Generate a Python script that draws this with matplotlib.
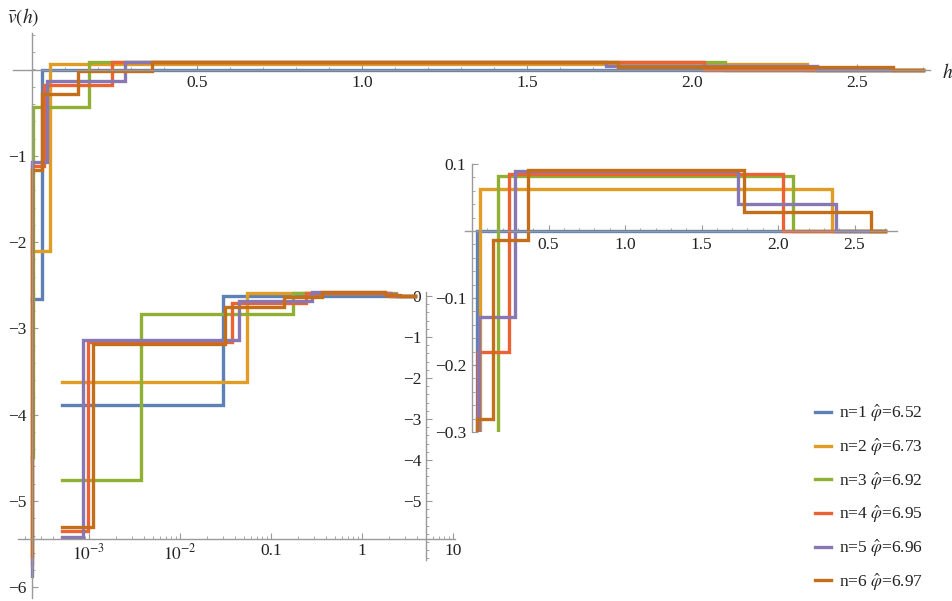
import numpy as np
import matplotlib
matplotlib.use("Agg")
import matplotlib.pyplot as plt
from matplotlib.ticker import FixedLocator, FixedFormatter, NullFormatter

# step data: segment edges in h and the value on each segment
h1 = [0, 0.030, 2.70]
v1 = [-2.66, 0.0]
h2 = [0, 0.055, 2.35, 2.70]
v2 = [-2.10, 0.063, 0.0]
h3 = [0, 0.0037, 0.173, 2.10, 2.70]
v3 = [-4.49, -0.44, 0.082, 0.0]
h4 = [0, 0.00098, 0.037, 0.242, 2.035, 2.70]
v4 = [-5.73, -1.12, -0.18, 0.085, 0.0]
h5 = [0, 0.00087, 0.045, 0.283, 1.74, 2.38, 2.70]
v5 = [-5.87, -1.07, -0.128, 0.089, 0.041, 0.0]
h6 = [0, 0.00112, 0.031, 0.140, 0.365, 1.775, 2.61, 2.70]
v6 = [-5.64, -1.17, -0.28, -0.013, 0.091, 0.029, 0.0]

n_vals = [1, 2, 3, 4, 5, 6]
phi_hat = [6.52, 6.73, 6.92, 6.95, 6.96, 6.97]
edges = [h1, h2, h3, h4, h5, h6]
values = [v1, v2, v3, v4, v5, v6]

# log-scale view runs over a different h window
h_min_log = 5e-4
h_max_log = 3.8

colors = ["#5E81B5", "#E19C24", "#8FB032", "#EB6235", "#8778B3", "#C56E1A"]

FS = 12.5
plt.rcParams["font.family"] = ["Liberation Serif", "DejaVu Serif"]
plt.rcParams["mathtext.fontset"] = "stix"
plt.rcParams["font.size"] = FS

W, H = 952, 601
AXC = "#999999"
TXT = "#222222"
LW = 2.4

fig = plt.figure(figsize=(W / 100, H / 100), dpi=100)


def px_axes(left, top, right, bottom):
    a = fig.add_axes([left / W, 1 - bottom / H, (right - left) / W, (bottom - top) / H])
    a.patch.set_visible(False)
    a.spines["top"].set_visible(False)
    a.spines["right"].set_visible(False)
    for s in ("left", "bottom"):
        a.spines[s].set_color(AXC)
        a.spines[s].set_linewidth(1.0)
    a.tick_params(which="both", direction="in", color=AXC, labelcolor=TXT,
                  labelsize=FS)
    a.tick_params(which="major", length=4, width=0.8)
    a.tick_params(which="minor", length=2.2, width=0.6)
    return a


def draw(a, h, v, **kw):
    a.step(h, list(v) + [v[-1]], where="post", color=kw.pop("color"), lw=LW,
           solid_joinstyle="miter", **kw)


# main axes
ax = px_axes(0, 0, W, H)
ax.set_xlim(-32 / 330, (W - 32) / 330)
ax.set_ylim((69.5 - H) / 86.3, 69.5 / 86.3)
ax.spines["left"].set_position(("data", 0))
ax.spines["bottom"].set_position(("data", 0))
ax.spines["left"].set_bounds(-6.12, 0.42)
ax.spines["bottom"].set_bounds(-0.058, 2.72)
ax.xaxis.set_major_locator(FixedLocator([0.5, 1.0, 1.5, 2.0, 2.5]))
ax.xaxis.set_major_formatter(FixedFormatter(["0.5", "1.0", "1.5", "2.0", "2.5"]))
ax.xaxis.set_minor_locator(FixedLocator(np.arange(0.1, 2.71, 0.1)))
ax.yaxis.set_major_locator(FixedLocator([-6, -5, -4, -3, -2, -1]))
ax.yaxis.set_major_formatter(FixedFormatter(["\u22126", "\u22125", "\u22124", "\u22123", "\u22122", "\u22121"]))
ax.yaxis.set_minor_locator(FixedLocator(np.arange(-6.0, 0.41, 0.2)))
ax.tick_params(axis="x", pad=4)
ax.tick_params(axis="y", pad=4)

for n, p, h, v, c in zip(n_vals, phi_hat, edges, values, colors):
    draw(ax, h, v, color=c, label=f"n={n} $\\hat{{\\varphi}}$={p:.2f}")

fig.text(7 / W, 1 - 17 / H, r"$\bar{v}(h)$", fontsize=14, color=TXT, va="center")
fig.text(942 / W, 1 - 72 / H, r"$h$", fontsize=14, color=TXT, va="center")

# zoomed linear view
ax2 = px_axes(455, 158, 900, 432)
ax2.set_xlim((455 - 472) / 153, (900 - 472) / 153)
ax2.set_ylim((231 - 432) / 670, (231 - 158) / 670)
ax2.spines["left"].set_position(("data", 0))
ax2.spines["bottom"].set_position(("data", 0))
ax2.spines["left"].set_bounds(-0.3, 0.1)
ax2.spines["bottom"].set_bounds(-0.046, 2.776)
ax2.xaxis.set_major_locator(FixedLocator([0.5, 1.0, 1.5, 2.0, 2.5]))
ax2.xaxis.set_major_formatter(FixedFormatter(["0.5", "1.0", "1.5", "2.0", "2.5"]))
ax2.xaxis.set_minor_locator(FixedLocator(np.arange(0.1, 2.71, 0.1)))
ax2.yaxis.set_major_locator(FixedLocator([-0.3, -0.2, -0.1, 0.1]))
ax2.yaxis.set_major_formatter(FixedFormatter(["\u22120.3", "\u22120.2", "\u22120.1", "0.1"]))
ax2.yaxis.set_minor_locator(FixedLocator(np.arange(-0.3, 0.101, 0.02)))
ax2.tick_params(axis="x", pad=4)
ax2.tick_params(axis="y", pad=4)
for h, v, c in zip(edges, values, colors):
    draw(ax2, h, v, color=c)

# log-scale view of small h
ax3 = px_axes(15, 283, 458, 562)
ax3.set_xscale("log")
ax3.set_xlim(10 ** ((15 - 362) / 91), 10 ** ((458 - 362) / 91))
ax3.set_ylim((296 - 562) / 41, (296 - 283) / 41)
ax3.spines["left"].set_position(("data", 5.0))
ax3.spines["bottom"].set_position(("data", -5.93))
ax3.spines["left"].set_bounds(-6.44, 0.1)
ax3.spines["bottom"].set_bounds(10 ** ((18 - 362) / 91), 10.5)
ax3.xaxis.set_major_locator(FixedLocator([1e-3, 1e-2, 0.1, 1, 10]))
ax3.xaxis.set_major_formatter(FixedFormatter([r"$10^{-3}$", r"$10^{-2}$", "0.1", "1", "10"]))
minor = [m * 10.0 ** e for e in range(-4, 1) for m in range(2, 10)]
ax3.xaxis.set_minor_locator(FixedLocator(minor))
ax3.xaxis.set_minor_formatter(NullFormatter())
ax3.yaxis.set_major_locator(FixedLocator([-5, -4, -3, -2, -1, 0]))
ax3.yaxis.set_major_formatter(FixedFormatter(["\u22125", "\u22124", "\u22123", "\u22122", "\u22121", "0"]))
ax3.yaxis.set_minor_locator(FixedLocator(np.arange(-6.4, 0.11, 0.2)))
ax3.tick_params(axis="x", pad=3)
ax3.tick_params(axis="y", pad=3)
for h, v, c in zip(edges, values, colors):
    hl = [h_min_log] + list(h[1:-1]) + [h_max_log]
    draw(ax3, hl, v, color=c)

handles, labels = ax.get_legend_handles_labels()
fig.legend(handles, labels, loc="upper left", bbox_to_anchor=(815 / W, 1 - 403 / H),
           frameon=False, fontsize=FS, handlelength=0.9, handletextpad=0.5,
           labelspacing=0.72, borderpad=0, borderaxespad=0, labelcolor=TXT)

fig.savefig("out.png", dpi=100)
